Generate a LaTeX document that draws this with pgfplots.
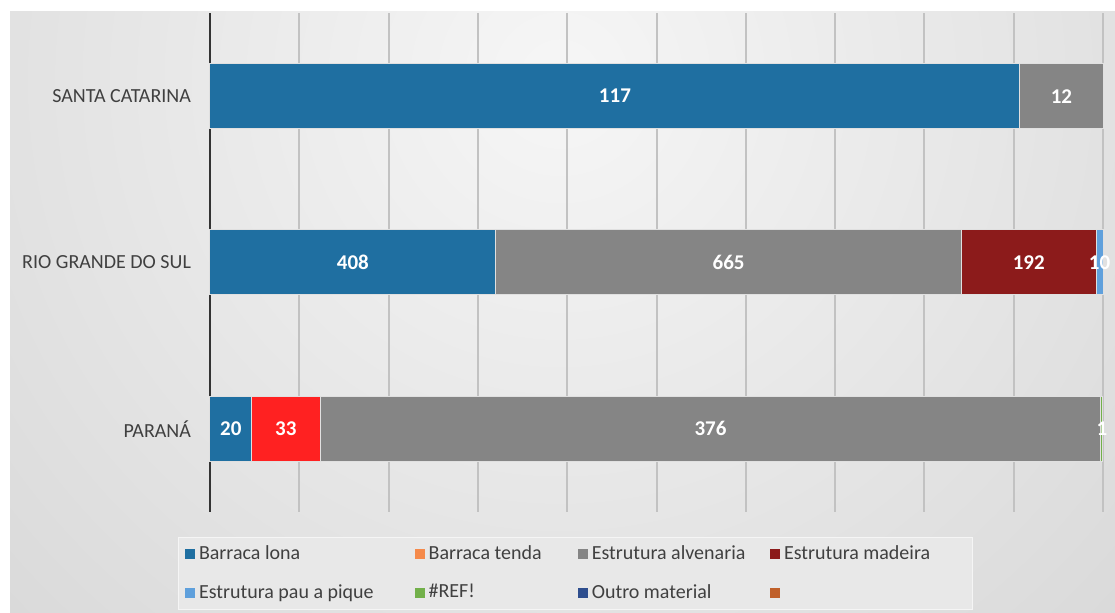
\documentclass[border=0pt]{standalone}
\usepackage{fontspec}
\setmainfont{Carlito}
\usepackage{pgfplots}
\pgfplotsset{compat=1.18}
\usepackage{pgfplotstable}
\definecolor{clona}{HTML}{1F6FA1}
\definecolor{ctenda}{HTML}{F58A4B}
\definecolor{cred}{HTML}{FF2121}
\definecolor{calv}{HTML}{858585}
\definecolor{cmad}{HTML}{8C1B1B}
\definecolor{cpau}{HTML}{5FA0DC}
\definecolor{cref}{HTML}{72B04A}
\definecolor{coutro}{HTML}{2E4E8E}
\definecolor{cvazio}{HTML}{C0602A}
\definecolor{bgin}{HTML}{F6F6F6}
\definecolor{bgout}{HTML}{C9C9C9}
\definecolor{txt}{HTML}{404040}
\pgfdeclareradialshading{bgshade}{\pgfpoint{0bp}{0bp}}{color(0bp)=(bgin); color(32bp)=(bgout); color(50bp)=(bgout)}

% y: 0 = PARANA, 1 = RIO GRANDE DO SUL, 2 = SANTA CATARINA
\pgfplotstableread{
y lona tenda alv mad pau ref total
0 20  33  376 0   0  1 430
1 408 0   665 192 10 0 1275
2 117 0   12  0   0  0 129
}\datatable
% shares of each row total (100 % stacked bars)
\pgfplotstablecreatecol[create col/expr={\thisrow{lona}/\thisrow{total}*100}]{plona}\datatable
\pgfplotstablecreatecol[create col/expr={\thisrow{tenda}/\thisrow{total}*100}]{ptenda}\datatable
\pgfplotstablecreatecol[create col/expr={\thisrow{alv}/\thisrow{total}*100}]{palv}\datatable
\pgfplotstablecreatecol[create col/expr={\thisrow{mad}/\thisrow{total}*100}]{pmad}\datatable
\pgfplotstablecreatecol[create col/expr={\thisrow{pau}/\thisrow{total}*100}]{ppau}\datatable
\pgfplotstablecreatecol[create col/expr={\thisrow{ref}/\thisrow{total}*100}]{pref}\datatable

\pgfplotsset{
  seg/.style={draw=white!88!black, line width=0.5pt, forget plot,
    nodes near coords={\ifnum\pgfplotspointmeta>0 \pgfplotspointmeta\fi},
    point meta=explicit symbolic,
    every node near coord/.append style={anchor=center,
      font=\bfseries\fontsize{10.5}{12}\selectfont, text=white}},
  sq/.style={legend image code/.code={\fill[#1] (0pt,-2.2pt) rectangle (4.4pt,2.2pt);}},
}

\begin{document}
\begin{tikzpicture}[x=0.5pt,y=-0.5pt]
\useasboundingbox (0,0) rectangle (1115,613);
\fill[white] (0,0) rectangle (1115,613);
\begin{scope}
\clip (10,12) rectangle (1115,613);
\shade[shading=bgshade] (560,80) circle (480pt);
\end{scope}
\begin{axis}[
  at={(105pt,-256pt)}, anchor=south west,
  scale only axis, width=446.5pt, height=249.5pt,
  xbar stacked, bar width=32.5pt,
  xmin=0, xmax=100, ymin=-0.5, ymax=2.5,
  xtick={0,10,...,100}, xticklabels={},
  xmajorgrids, grid style={draw=black!24, line width=1pt},
  extra x ticks={0}, extra x tick labels={},
  extra x tick style={grid style={draw=black!80, line width=1.2pt}},
  ytick={0,1,2}, yticklabels={PARANÁ,RIO GRANDE DO SUL,SANTA CATARINA},
  yticklabel style={font=\fontsize{10}{12}\selectfont, text=txt, xshift=-6pt},
  major tick length=0pt,
  axis line style={draw=none},
  clip=false,
  legend style={at={(-0.0358,-0.05)}, anchor=north west,
     fill=black!9, draw=black!4, font=\fontsize{10}{12}\selectfont, text=txt,
     inner xsep=3.5pt, inner ysep=2pt, row sep=7pt, column sep=0pt},
  legend columns=4, legend cell align=left,
]
\addplot[fill=clona, seg] table[x=plona, y=y, meta=lona]{\datatable};
\addplot[fill=cred, seg] table[x=ptenda, y=y, meta=tenda]{\datatable};
\addplot[fill=calv, seg] table[x=palv, y=y, meta=alv]{\datatable};
\addplot[fill=cmad, seg] table[x=pmad, y=y, meta=mad]{\datatable};
\addplot[fill=cpau, seg] table[x=ppau, y=y, meta=pau]{\datatable};
\addplot[fill=cref, seg] table[x=pref, y=y, meta=ref]{\datatable};
\addlegendimage{sq=clona}\addlegendentry{\makebox[106pt][l]{Barraca lona}}
\addlegendimage{sq=ctenda}\addlegendentry{\makebox[72.8pt][l]{Barraca tenda}}
\addlegendimage{sq=calv}\addlegendentry{\makebox[87.3pt][l]{Estrutura alvenaria}}
\addlegendimage{sq=cmad}\addlegendentry{\makebox[88.5pt][l]{Estrutura madeira}}
\addlegendimage{sq=cpau}\addlegendentry{\makebox[106pt][l]{Estrutura pau a pique}}
\addlegendimage{sq=cref}\addlegendentry{\makebox[72.8pt][l]{\#REF!}}
\addlegendimage{sq=coutro}\addlegendentry{\makebox[87.3pt][l]{Outro material}}
\addlegendimage{sq=cvazio}\addlegendentry{\makebox[88.5pt][l]{}}
\end{axis}
\end{tikzpicture}
\end{document}
